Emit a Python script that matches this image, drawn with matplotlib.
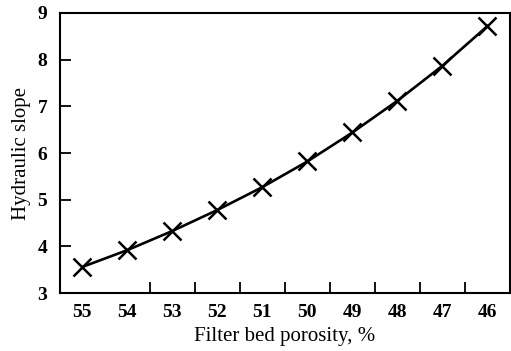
import numpy as np
import matplotlib.pyplot as plt

# data
porosity = [55, 54, 53, 52, 51, 50, 49, 48, 47, 46]
slope = [3.56, 3.92, 4.33, 4.78, 5.27, 5.82, 6.44, 7.12, 7.87, 8.72]

plt.rcParams['font.family'] = ['Liberation Serif', 'DejaVu Serif']

fig = plt.figure(figsize=(5.11, 3.51), dpi=100)
ax = fig.add_axes([0.117, 0.165, 0.881, 0.798])

ax.plot(porosity, slope, "-", color="black", linewidth=1.9)
ax.plot(porosity, slope, "x", color="black", markersize=13, markeredgewidth=1.8)

ax.set_xlim(55.5, 45.5) # reversed axis
ax.set_ylim(3, 9)

# labels sit on the integers, tick marks fall between them
ax.set_xticks(porosity)
ax.set_xticklabels([str(p) for p in porosity], fontsize=14, fontweight="bold")
ax.tick_params(axis="x", length=0, pad=8)
ax.set_xticks([p - 0.5 for p in porosity[1:]], minor=True)
ax.tick_params(axis="x", which="minor", direction="in", length=8, width=1.3)

ax.set_yticks([3, 4, 5, 6, 7, 8, 9])
ax.set_yticklabels(["3", "4", "5", "6", "7", "8", "9"], fontsize=14, fontweight="bold")
ax.tick_params(axis="y", direction="in", length=8, width=1.3, pad=9)

for s in ax.spines.values():
    s.set_linewidth(1.5)

ax.set_xlabel("Filter bed porosity, %", fontsize=15, labelpad=4)
ax.set_ylabel("Hydraulic slope", fontsize=15, labelpad=5)

fig.savefig("out.png", dpi=100)
